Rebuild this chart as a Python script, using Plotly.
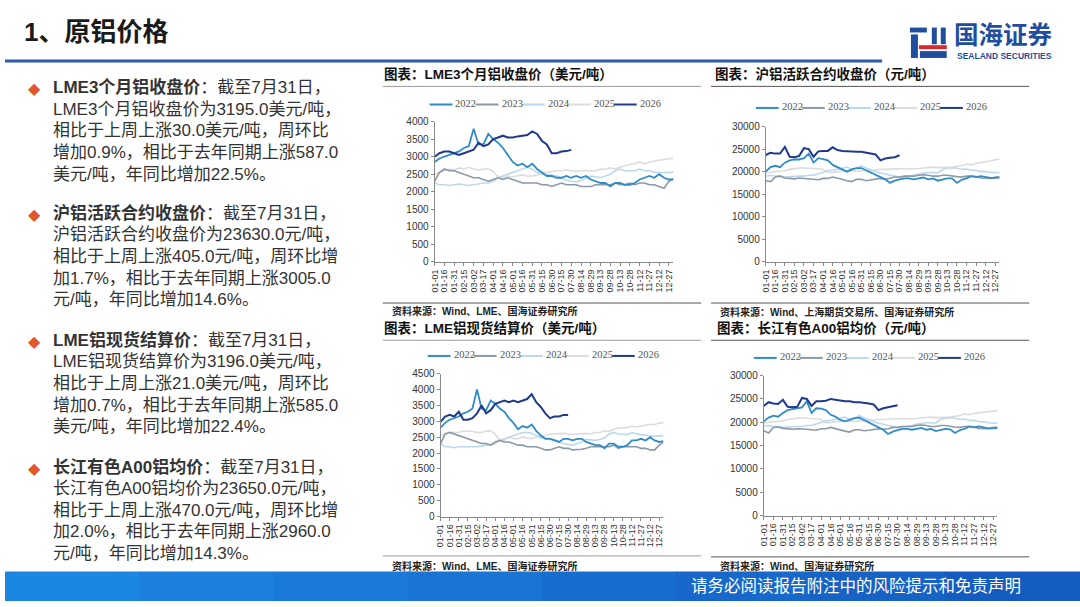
import plotly.graph_objects as go

W, H = 1080, 607

# ---------------- data ----------------
dates = ["01-01", "01-08", "01-16", "01-23", "01-31", "02-07", "02-15", "02-22",
         "03-02", "03-09", "03-17", "03-24", "04-01", "04-08", "04-16", "04-23",
         "05-01", "05-08", "05-16", "05-23", "05-31", "06-07", "06-15", "06-22",
         "06-30", "07-07", "07-15", "07-22", "07-30", "08-06", "08-14", "08-21",
         "08-29", "09-05", "09-13", "09-20", "09-28", "10-05", "10-13", "10-20",
         "10-28", "11-04", "11-12", "11-19", "11-27", "12-04", "12-12", "12-19",
         "12-27", "12-31"]
tick_dates = ["01-01", "01-16", "01-31", "02-15", "03-02", "03-17", "04-01", "04-16",
              "05-01", "05-16", "05-31", "06-15", "06-30", "07-15", "07-30", "08-14",
              "08-29", "09-13", "09-28", "10-13", "10-28", "11-12", "11-27", "12-12",
              "12-27"]
years = ["2022", "2023", "2024", "2025", "2026"]

# LME 3个月铝收盘价 (美元/吨)
lme3_2022 = [2850, 2950, 3000, 3050, 3100, 3150, 3250, 3300, 3800, 3350, 3350, 3650, 3500, 3400, 3250, 3050,
             2850, 2750, 2800, 2700, 2800, 2650, 2550, 2450, 2450, 2400, 2400, 2450, 2400, 2450, 2400, 2450,
             2350, 2300, 2250, 2250, 2150, 2250, 2250, 2200, 2200, 2250, 2350, 2400, 2450, 2400, 2500, 2400,
             2350, 2350]
lme3_2023 = [2300, 2550, 2650, 2600, 2600, 2550, 2500, 2450, 2400, 2400, 2350, 2300, 2350, 2400, 2350, 2400,
             2350, 2300, 2250, 2250, 2250, 2250, 2200, 2200, 2150, 2200, 2250, 2200, 2200, 2200, 2150, 2150,
             2150, 2200, 2200, 2200, 2200, 2250, 2200, 2200, 2250, 2200, 2250, 2250, 2200, 2200, 2150, 2100,
             2300, 2380]
lme3_2024 = [2250, 2200, 2200, 2180, 2200, 2220, 2200, 2180, 2200, 2230, 2250, 2250, 2300, 2400, 2450, 2500,
             2550, 2600, 2650, 2700, 2650, 2550, 2500, 2500, 2480, 2450, 2380, 2330, 2300, 2280, 2320, 2380,
             2450, 2430, 2400, 2450, 2500, 2600, 2650, 2600, 2600, 2600, 2650, 2600, 2600, 2560, 2550, 2540,
             2550, 2560]
lme3_2025 = [2500, 2550, 2600, 2650, 2620, 2680, 2650, 2700, 2650, 2620, 2650, 2650, 2580, 2420, 2400, 2450,
             2430, 2450, 2480, 2450, 2450, 2480, 2550, 2550, 2580, 2600, 2600, 2620, 2600, 2580, 2600, 2600,
             2620, 2600, 2650, 2640, 2680, 2650, 2700, 2750, 2780, 2800, 2850, 2800, 2850, 2880, 2900, 2920,
             2950, 2960]
lme3_2026 = [3000, 3100, 3150, 3150, 3100, 3050, 3100, 3150, 3200, 3400, 3300, 3350, 3500, 3550, 3600, 3550,
             3550, 3580, 3600, 3620, 3720, 3650, 3450, 3350, 3100, 3100, 3150, 3160, 3195]

# 沪铝活跃合约收盘价 (元/吨)
shfe_2022 = [20000, 21000, 21300, 21000, 22000, 22500, 22700, 22700, 23000, 24000, 22000, 23000, 22800, 22500,
             21500, 21000, 20500, 20000, 20500, 20800, 20800, 20300, 19800, 19300, 18800, 18300, 17500, 18000,
             18300, 18500, 18500, 18300, 18500, 18700, 18300, 18500, 18000, 18300, 18500, 18500, 17500, 18200,
             18500, 19000, 18800, 19000, 18800, 18600, 18600, 18700]
shfe_2023 = [18000, 17800, 18800, 19000, 18600, 18500, 18400, 18600, 18500, 18400, 18300, 18200, 18500, 18500,
             18800, 18600, 18300, 18000, 17800, 18300, 18300, 18000, 18200, 18400, 18500, 18300, 18500, 18800,
             18800, 19000, 19000, 19000, 19200, 19300, 19200, 19000, 19000, 19200, 19200, 19000, 18900, 18800,
             19000, 19000, 18900, 18600, 18500, 18500, 18800, 18800]
shfe_2024 = [19000, 19200, 19000, 19000, 18800, 18900, 19000, 19000, 19000, 19200, 19200, 19500, 19800, 20200,
             20300, 20500, 20800, 21000, 20500, 20800, 21300, 20800, 20500, 20000, 19700, 19500, 19200, 19000,
             18800, 18900, 19000, 19200, 19500, 19700, 19800, 19800, 19700, 20500, 20800, 20800, 20800, 20500,
             20600, 20300, 20300, 20000, 20000, 19800, 19800, 19800]
shfe_2025 = [19700, 19900, 20000, 20100, 20200, 20500, 20700, 20800, 20800, 20800, 20700, 20600, 20500, 19800,
             19800, 20000, 20100, 20200, 20200, 20100, 20200, 20300, 20200, 20400, 20500, 20500, 20600, 20700,
             20700, 20600, 20600, 20700, 20700, 20800, 20900, 21000, 20900, 20900, 21000, 21000, 21200, 21300,
             21700, 21500, 21800, 22000, 22200, 22400, 22500, 22800]
shfe_2026 = [23700, 24200, 24000, 24000, 25500, 23300, 23200, 23500, 25200, 25000, 23300, 24500, 24600, 24600,
             25400, 24800, 24600, 24500, 24500, 24400, 24400, 24200, 24000, 23800, 22500, 22900, 23100, 23200,
             23630]

# LME铝现货结算价 (美元/吨)
spot_2022 = [2800, 2950, 3050, 3100, 3150, 3250, 3300, 3400, 4000, 3400, 3350, 3650, 3550, 3400, 3300, 3100,
             2950, 2750, 2850, 2800, 2900, 2700, 2550, 2450, 2450, 2400, 2350, 2450, 2450, 2400, 2450, 2450,
             2350, 2300, 2250, 2250, 2150, 2300, 2300, 2200, 2200, 2250, 2400, 2400, 2450, 2400, 2500, 2400,
             2350, 2380]
spot_2023 = [2300, 2600, 2650, 2600, 2550, 2500, 2450, 2400, 2350, 2300, 2300, 2250, 2350, 2400, 2350, 2350,
             2300, 2250, 2250, 2200, 2200, 2200, 2150, 2100, 2100, 2150, 2200, 2150, 2150, 2100, 2100, 2120,
             2150, 2200, 2200, 2200, 2200, 2200, 2250, 2150, 2200, 2200, 2200, 2200, 2150, 2150, 2100, 2100,
             2250, 2350]
spot_2024 = [2300, 2200, 2200, 2170, 2200, 2200, 2180, 2180, 2200, 2220, 2250, 2250, 2300, 2400, 2450, 2500,
             2550, 2580, 2650, 2650, 2620, 2550, 2480, 2480, 2450, 2430, 2350, 2300, 2280, 2250, 2300, 2350,
             2430, 2420, 2400, 2430, 2480, 2600, 2650, 2600, 2580, 2580, 2640, 2600, 2580, 2560, 2540, 2530,
             2540, 2550]
spot_2025 = [2550, 2600, 2650, 2650, 2650, 2700, 2700, 2680, 2650, 2650, 2700, 2700, 2600, 2400, 2400, 2500,
             2450, 2450, 2500, 2480, 2450, 2500, 2550, 2550, 2600, 2600, 2620, 2620, 2600, 2580, 2600, 2620,
             2620, 2600, 2650, 2650, 2700, 2680, 2750, 2780, 2800, 2800, 2850, 2820, 2850, 2880, 2900, 2900,
             2950, 2950]
spot_2026 = [2980, 3150, 3200, 3150, 3300, 3050, 3050, 3100, 3250, 3500, 3250, 3350, 3550, 3600, 3650, 3600,
             3650, 3600, 3650, 3700, 3850, 3600, 3450, 3250, 3100, 3150, 3150, 3200, 3196]

# 长江有色A00铝均价 (元/吨)
cj_2022 = [20200, 21000, 21400, 21200, 22000, 22600, 22800, 23000, 23200, 24500, 22000, 23000, 22900, 22600,
           21600, 21200, 20500, 20200, 20600, 20900, 21000, 20500, 20000, 19400, 18900, 18400, 17500, 18000,
           18300, 18600, 18600, 18400, 18600, 18800, 18400, 18600, 18100, 18400, 18600, 18500, 17700, 18300,
           18600, 19100, 18900, 19100, 18900, 18700, 18700, 18800]
cj_2023 = [18200, 17700, 18900, 19000, 18700, 18600, 18500, 18600, 18600, 18500, 18400, 18300, 18600, 18600,
           18900, 18600, 18400, 18100, 17900, 18400, 18400, 18200, 18300, 18500, 18600, 18500, 18600, 18900,
           18900, 19100, 19100, 19100, 19300, 19400, 19300, 19100, 19100, 19300, 19300, 19100, 19000, 18900,
           19100, 19100, 19000, 18700, 18600, 18600, 18900, 18900]
cj_2024 = [19200, 19300, 19100, 19100, 18900, 19000, 19100, 19100, 19100, 19300, 19300, 19600, 19900, 20300,
           20400, 20600, 20900, 21100, 20600, 20900, 21400, 20900, 20600, 20100, 19800, 19600, 19300, 19100,
           18900, 19000, 19100, 19300, 19600, 19800, 19900, 19900, 19800, 20600, 20900, 20900, 20900, 20600,
           20700, 20400, 20400, 20100, 20100, 19900, 19800, 19800]
cj_2025 = [19900, 20000, 20100, 20200, 20300, 20600, 20800, 20900, 20900, 20900, 20800, 20700, 20600, 19900,
           19900, 20100, 20200, 20300, 20300, 20200, 20300, 20400, 20300, 20500, 20600, 20600, 20700, 20800,
           20800, 20700, 20700, 20800, 20800, 20900, 21000, 21100, 21000, 21000, 21100, 21100, 21300, 21400,
           21800, 21600, 21900, 22000, 22200, 22300, 22400, 22500]
cj_2026 = [23500, 24300, 24000, 23900, 24800, 23300, 23200, 23300, 25200, 25000, 23500, 24500, 24500, 24600,
           25000, 24800, 24700, 24500, 24500, 24300, 24300, 24200, 24000, 23800, 22600, 23000, 23200, 23300,
           23650]

colors = {"2022": "#2F8CC6", "2023": "#8D99A6", "2024": "#BBD8EF", "2025": "#DCDCDC", "2026": "#1F3A8C"}
widths = {"2022": 1.8, "2023": 1.6, "2024": 1.6, "2025": 1.6, "2026": 2.0}
draw_order = ["2025", "2024", "2023", "2022", "2026"]

# Latin face first so text boxes keep a compact line height; CJK glyphs fall back to Noto
CJK = "Liberation Sans, Noto Sans CJK SC"


def px(x):
    return x / W


def py(y):
    return 1 - y / H


fig = go.Figure()

panels = [
    # series, x pixel span, y pixel span (bottom, top), y max, dtick
    ({"2022": lme3_2022, "2023": lme3_2023, "2024": lme3_2024, "2025": lme3_2025, "2026": lme3_2026},
     (432, 672), (261, 118), 4000, 500),
    ({"2022": shfe_2022, "2023": shfe_2023, "2024": shfe_2024, "2025": shfe_2025, "2026": shfe_2026},
     (765, 1000), (261, 123), 30000, 5000),
    ({"2022": spot_2022, "2023": spot_2023, "2024": spot_2024, "2025": spot_2025, "2026": spot_2026},
     (438, 662), (521, 375), 4500, 500),
    ({"2022": cj_2022, "2023": cj_2023, "2024": cj_2024, "2025": cj_2025, "2026": cj_2026},
     (763, 998), (520, 377), 30000, 5000),
]

layout_axes = {}
for i, (series, xs, ys, ymax, dt) in enumerate(panels):
    n = "" if i == 0 else str(i + 1)
    for yr in draw_order:
        vals = series[yr]
        fig.add_trace(go.Scatter(x=dates[:len(vals)], y=vals, mode="lines", name=yr,
                                 line=dict(color=colors[yr], width=widths[yr]),
                                 xaxis="x" + n, yaxis="y" + n, showlegend=False))
    layout_axes["xaxis" + n] = dict(
        domain=[px(xs[0]), px(xs[1])], anchor="y" + n, type="category",
        categoryorder="array", categoryarray=dates, range=[0, 48.9],
        tickmode="array", tickvals=tick_dates, ticktext=tick_dates, tickangle=-90,
        tickfont=dict(family="Liberation Sans", size=9, color="#333"),
        showgrid=False, zeroline=False, showline=True, linecolor="#8a8a8a", linewidth=1,
        ticks="outside", ticklen=3, tickcolor="#8a8a8a")
    layout_axes["yaxis" + n] = dict(
        domain=[py(ys[0]), py(ys[1])], anchor="x" + n, range=[0, ymax], dtick=dt,
        tickformat="d",
        tickfont=dict(family="Liberation Sans", size=10, color="#333"),
        showgrid=False, zeroline=False, showline=True, linecolor="#8a8a8a", linewidth=1,
        ticks="outside", ticklen=3, tickcolor="#8a8a8a")

fig.update_layout(**layout_axes)

shapes = []
annotations = []


def text(x, y, s, size, color="#333", family=CJK, anchor="left"):
    annotations.append(dict(x=px(x), y=py(y), xref="paper", yref="paper", text=s, showarrow=False,
                            xanchor=anchor, yanchor="middle", align="left",
                            font=dict(family=family, size=size, color=color)))


def hline(x0, x1, y, color, width):
    shapes.append(dict(type="line", xref="paper", yref="paper", x0=px(x0), x1=px(x1),
                       y0=py(y), y1=py(y), line=dict(color=color, width=width)))


def rect(x0, y0, x1, y1, color):
    shapes.append(dict(type="rect", xref="paper", yref="paper", x0=px(x0), x1=px(x1),
                       y0=py(y1), y1=py(y0), fillcolor=color, line=dict(width=0), layer="above"))


# legends (drawn by hand to keep the compact spacing of the original)
def legend(x_start, y):
    step = 46.3
    for k, yr in enumerate(years):
        x0 = x_start + k * step
        hline(x0, x0 + 23, y, colors[yr], 2)
        text(x0 + 24, y - 1.5, yr, 10.5, color="#555", family="Liberation Serif")


legend(427, 100.5)
legend(755, 104)
legend(425, 357)
legend(753, 359)

# slide title and header rule
text(17, 27, "<b>1、原铝价格</b>", 26, color="#1a1a1a")
hline(0, 882, 56, "#2E5CA8", 3)

# logo
rect(910, 22, 927, 27, "#1F4E9F")
rect(911, 29, 918, 53, "#1F4E9F")
rect(932, 22, 937, 39, "#1F4E9F")
rect(941, 22, 946, 39, "#1F4E9F")
rect(919, 40, 947, 44, "#D6282E")
rect(920, 46, 947, 53, "#1F4E9F")
text(952, 30, "<b>国海证券</b>", 24.5, color="#1F4E9F")
text(955, 51, "<b>SEALAND SECURITIES</b>", 8.5, color="#1F4E9F", family="Liberation Sans")

# chart titles, rules and sources
text(379, 69, "<b>图表：LME3个月铝收盘价（美元/吨）</b>", 13.5, color="#111")
text(712, 69, "<b>图表：沪铝活跃合约收盘价（元/吨）</b>", 13.5, color="#111")
text(379, 328, "<b>图表：LME铝现货结算价（美元/吨）</b>", 13.5, color="#111")
text(714, 328, "<b>图表：长江有色A00铝均价（元/吨）</b>", 13.5, color="#111")
hline(380, 700, 82, "#9a9a9a", 1)
hline(710, 1030, 82, "#555", 1)
hline(380, 700, 341, "#9a9a9a", 1)
hline(710, 1030, 341, "#555", 1)
hline(380, 700, 303, "#555", 1)
hline(710, 1030, 303, "#555", 1)
hline(380, 700, 561, "#9a9a9a", 1)
hline(710, 1030, 562, "#555", 1)
text(387, 311, "<b>资料来源：Wind、LME、国海证券研究所</b>", 10, color="#222")
text(717, 312, "<b>资料来源：Wind、上海期货交易所、国海证券研究所</b>", 10, color="#222")
text(387, 571, "<b>资料来源：Wind、LME、国海证券研究所</b>", 10, color="#222")
text(717, 571, "<b>资料来源：Wind、国海证券研究所</b>", 10, color="#222")

# left commentary
blocks = [
    (88, ["<b>LME3个月铝收盘价</b>：截至7月31日，",
          "LME3个月铝收盘价为3195.0美元/吨，",
          "相比于上周上涨30.0美元/吨，周环比",
          "增加0.9%，相比于去年同期上涨587.0",
          "美元/吨，年同比增加22.5%。"]),
    (216.5, ["<b>沪铝活跃合约收盘价</b>：截至7月31日，",
             "沪铝活跃合约收盘价为23630.0元/吨，",
             "相比于上周上涨405.0元/吨，周环比增",
             "加1.7%，相比于去年同期上涨3005.0",
             "元/吨，年同比增加14.6%。"]),
    (346, ["<b>LME铝现货结算价</b>：截至7月31日，",
           "LME铝现货结算价为3196.0美元/吨，",
           "相比于上周上涨21.0美元/吨，周环比",
           "增加0.7%，相比于去年同期上涨585.0",
           "美元/吨，年同比增加22.4%。"]),
    (475, ["<b>长江有色A00铝均价</b>：截至7月31日，",
           "长江有色A00铝均价为23650.0元/吨，",
           "相比于上周上涨470.0元/吨，周环比增",
           "加2.0%，相比于去年同期上涨2960.0",
           "元/吨，年同比增加14.3%。"]),
]
for y0, lines in blocks:
    text(30, y0 - 3.5, "◆", 16, color="#E2562B", anchor="center", family="DejaVu Sans")
    for j, ln in enumerate(lines):
        text(46, y0 - 5 + j * 22.1, ln, 17, color="#333")

# footer band
band = ["#1C86E3", "#1B80DE", "#1A7AD9", "#1974D4", "#186ECF", "#1768CA", "#1662C5", "#155CC0"]
bw = W / len(band)
for k, c in enumerate(band):
    rect(k * bw, 577, (k + 1) * bw + 1, 607, c)
text(688, 592, "请务必阅读报告附注中的风险提示和免责声明", 16.5, color="#ffffff")

fig.update_layout(width=W, height=H, margin=dict(l=0, r=0, t=0, b=0),
                  paper_bgcolor="white", plot_bgcolor="white",
                  shapes=shapes, annotations=annotations, showlegend=False)

fig.write_html("out.html", config={"displayModeBar": False},
               post_script="document.body.style.margin='0';document.body.style.overflow='hidden';")
